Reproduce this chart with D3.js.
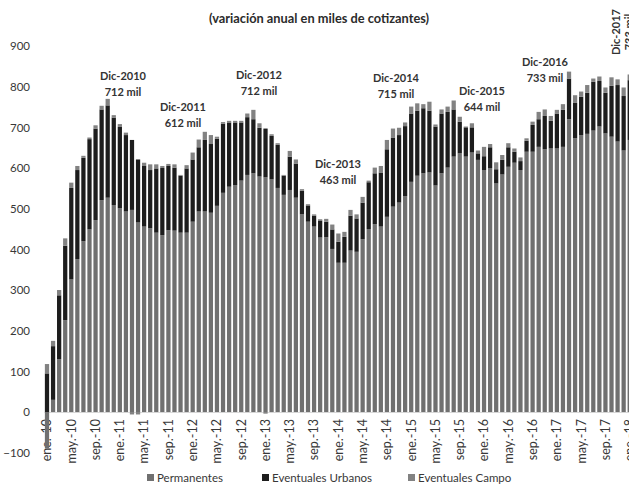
<!DOCTYPE html>
<html>
<head>
<meta charset="utf-8">
<script src="https://cdnjs.cloudflare.com/ajax/libs/d3/7.8.5/d3.min.js"></script>
<style>
  body { margin: 0; background: #fff; }
  svg { display: block; font-family: "Lato", "Open Sans", sans-serif; }
</style>
</head>
<body>
<div class="canvas"></div>
<script>
const dimension = {'width': 629, 'height': 485};

// month names used in the tick labels
const months = ['ene.', 'feb.', 'mar.', 'abr.', 'may.', 'jun.', 'jul.', 'ago.', 'sep.', 'oct.', 'nov.', 'dic.'];
const years = ['10', '11', '12', '13', '14', '15', '16', '17', '18'];

// annual change, thousands of contributors (ene-10 .. ene-18)
const permanentes = [
  -90, 30, 130, 226, 326, 376, 420, 449, 472, 521, 527, 509,
  501, 493, 497, 466, 456, 452, 441, 435, 447, 446, 441, 441,
  468, 493, 493, 490, 507, 539, 554, 558, 569, 583, 587, 579,
  577, 572, 551, 534, 546, 527, 486, 468, 456, 429, 430, 401,
  367, 367, 397, 394, 425, 450, 462, 456, 480, 505, 515, 531,
  566, 581, 587, 589, 557, 587, 601, 628, 636, 628, 638, 620,
  595, 600, 562, 584, 603, 613, 595, 640, 640, 652, 646, 648,
  648, 652, 720, 673, 681, 684, 692, 702, 685, 677, 665, 643,
  669
];
const urbanos = [
  95, 132, 157, 183, 225, 219, 205, 222, 225, 223, 227, 215,
  200, 188, 172, 155, 149, 143, 158, 165, 158, 155, 140, 158,
  153, 158, 176, 169, 165, 170, 158, 154, 143, 142, 133, 120,
  120, 107, 106, 47, 82, 84, 58, 40, 27, 42, 38, 48,
  52, 64, 86, 82, 90, 115, 125, 133, 166, 170, 166, 172,
  168, 160, 160, 152, 145, 147, 137, 116, 78, 72, 62, 16,
  34, 51, 35, 36, 48, 27, 22, 27, 66, 68, 82, 68,
  86, 91, 100, 87, 94, 101, 120, 112, 100, 125, 139, 134,
  147
];
const campo = [
  23, 13, 13, 18, 13, 10, 5, 4, 8, 9, 16, 6,
  7, 6, -6, -6, 8, 14, 10, 5, 5, 8, 2, 8,
  17, 19, 20, 22, 5, 4, 4, 4, 4, 9, 23, 11,
  -4, 4, 4, 2, 14, 10, 4, 3, 3, 3, 7, 12,
  20, 12, 14, 10, 14, 4, 14, 16, 23, 22, 18, 9,
  17, 18, 10, 22, 5, 10, 13, 22, 12, 2, 10, 7,
  23, 8, 17, 12, 10, 8, 9, 6, 8, 18, 16, 12,
  9, 14, 17, 19, 13, 19, 8, 11, 13, 21, 14, 21,
  14
];

const seriesNames = ['Permanentes', 'Eventuales Urbanos', 'Eventuales Campo'];
const yTicks = [-100, 0, 100, 200, 300, 400, 500, 600, 700, 800, 900];

// December call-outs
const annotTitles = ['Dic-2010', 'Dic-2011', 'Dic-2012', 'Dic-2013', 'Dic-2014', 'Dic-2015', 'Dic-2016', 'Dic-2017'];
const annotValues = ['712 mil', '612 mil', '712 mil', '463 mil', '715 mil', '644 mil', '733 mil', '733 mil'];

const colors = ['#707070', '#1d1d1d', '#828282'];

// build month categories
const categories = [];
years.forEach(y => months.forEach(m => categories.push(`${m}-${y}`)));
categories.length = permanentes.length;

const data = categories.map((c, i) => ({
  month: c,
  'Permanentes': permanentes[i],
  'Eventuales Urbanos': urbanos[i],
  'Eventuales Campo': campo[i]
}));

const svg = d3.select('.canvas')
  .append('svg')
  .attr('width', dimension.width)
  .attr('height', dimension.height);

const step = 6.07;
const x = d3.scaleBand()
  .domain(categories)
  .range([47 - step / 2, 47 - step / 2 + step * categories.length])
  .paddingInner(0.3)
  .paddingOuter(0.15);

const y = d3.scaleLinear()
  .domain([-100, 900])
  .range([452.7, 46]);

const stack = d3.stack()
  .keys(seriesNames)
  .offset(d3.stackOffsetDiverging);

const color = d3.scaleOrdinal(seriesNames, colors);

// title
svg.append('text')
  .attr('x', 319)
  .attr('y', 23)
  .attr('text-anchor', 'middle')
  .attr('font-size', 12.8)
  .attr('font-weight', 'bold')
  .attr('fill', '#2b2b2b')
  .text('(variación anual en miles de cotizantes)');

// y axis
const yAxis = svg.append('g')
  .attr('transform', 'translate(32,0)')
  .call(d3.axisLeft(y).tickValues(yTicks).tickSize(0).tickPadding(2));
yAxis.select('.domain').remove();
yAxis.selectAll('text')
  .attr('font-size', 11.5)
  .attr('font-family', 'Lato, "Open Sans", sans-serif')
  .attr('fill', '#383838');

// x axis, every 4 months
const xAxis = svg.append('g')
  .attr('transform', `translate(0,${y(0)})`)
  .call(d3.axisBottom(x).tickValues(categories.filter((d, i) => i % 4 === 0)).tickSize(0));
xAxis.select('.domain').attr('stroke', '#d9d9d9');
xAxis.selectAll('text')
  .attr('transform', 'rotate(-90)')
  .attr('text-anchor', 'end')
  .attr('x', -7)
  .attr('y', 0)
  .attr('dy', '0.35em')
  .attr('font-size', 12.5)
  .attr('font-family', 'Lato, "Open Sans", sans-serif')
  .attr('fill', '#383838');

// stacked bars
const layers = svg.append('g')
  .selectAll('g')
  .data(stack(data))
  .join('g')
  .attr('fill', d => color(d.key));

layers.selectAll('rect')
  .data(d => d)
  .join('rect')
  .attr('x', d => x(d.data.month))
  .attr('width', x.bandwidth())
  .attr('y', d => y(Math.max(d[0], d[1])))
  .attr('height', d => Math.abs(y(d[0]) - y(d[1])));

// call-outs
const annotPos = [[123, 80], [183, 111], [259, 79], [338, 168], [396, 82], [482, 95], [545, 66]];
const notes = svg.append('g')
  .attr('font-size', 11)
  .attr('font-weight', 'bold')
  .attr('fill', '#333')
  .attr('text-anchor', 'middle');

annotPos.forEach((p, i) => {
  const t = notes.append('text').attr('x', p[0]).attr('y', p[1]);
  t.append('tspan').attr('x', p[0]).text(annotTitles[i]);
  t.append('tspan').attr('x', p[0]).attr('dy', 16).text(annotValues[i]);
});

// Dic-2017 is written vertically at the right edge
const last = notes.append('text')
  .attr('transform', 'translate(620,32) rotate(-90)');
last.append('tspan').attr('x', 0).text(annotTitles[7]);
last.append('tspan').attr('x', 0).attr('dy', 13).text(annotValues[7]);

// legend
const legendX = [147, 262, 408];
const legend = svg.append('g')
  .attr('transform', 'translate(0,474)');
seriesNames.forEach((s, i) => {
  legend.append('rect')
    .attr('x', legendX[i])
    .attr('y', 0)
    .attr('width', 7)
    .attr('height', 7)
    .attr('fill', colors[i]);
  legend.append('text')
    .attr('x', legendX[i] + 10)
    .attr('y', 7.5)
    .attr('font-size', 11.5)
    .attr('fill', '#383838')
    .text(s);
});
</script>
</body>
</html>
